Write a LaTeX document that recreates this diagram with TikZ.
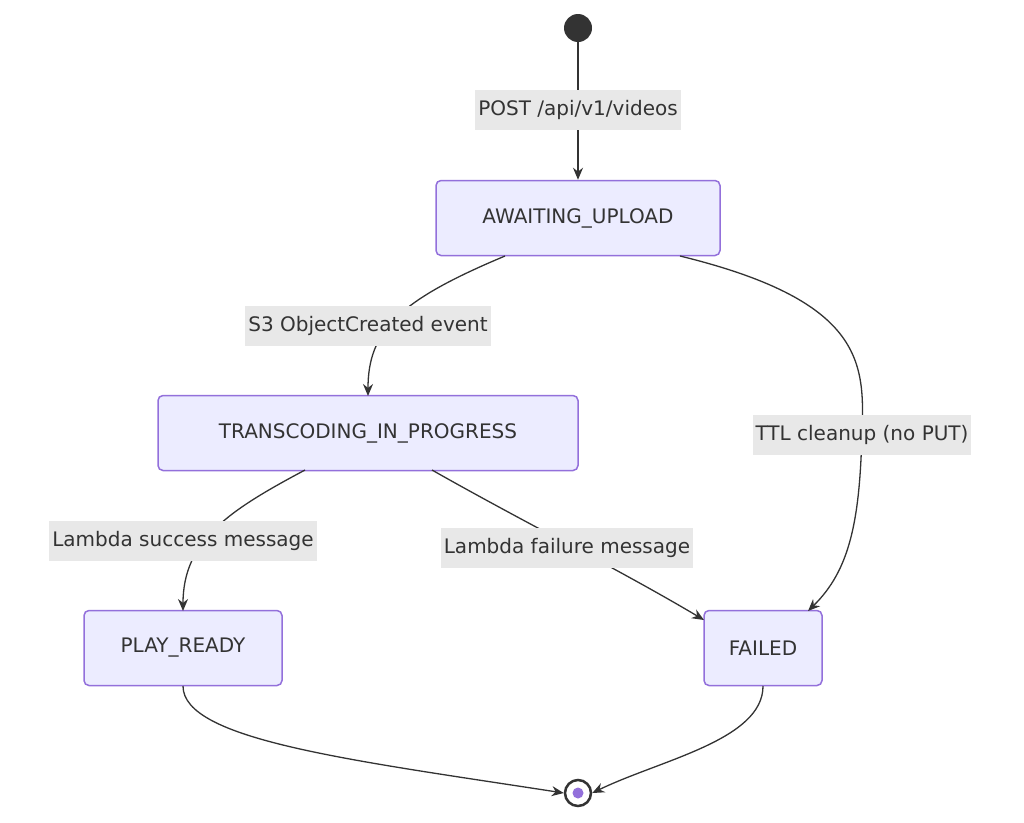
\documentclass[tikz,border=0pt]{standalone}
\usepackage{fontspec}
\setmainfont{DejaVu Sans}
\usetikzlibrary{arrows.meta}
\definecolor{boxfill}{HTML}{ECECFF}
\definecolor{boxdraw}{HTML}{9370DB}
\definecolor{txt}{HTML}{333333}
\definecolor{lblbg}{HTML}{E8E8E8}
\begin{document}
\begin{tikzpicture}[x=1pt,y=-1pt,
  state/.style={draw=boxdraw,fill=boxfill,line width=1.5pt,rounded corners=5pt,text=txt,font=\fontsize{20}{24}\selectfont,minimum height=75pt,inner xsep=16pt},
  lbl/.style={fill=lblbg,text=txt,font=\fontsize{20}{24}\selectfont,inner sep=3pt,minimum height=40pt},
  edge/.style={draw=txt,line width=1.3pt,-{Stealth[length=12pt,width=10pt]}}]
\useasboundingbox (0,0) rectangle (1024,822);
\node[circle,fill=txt,minimum size=28pt,inner sep=0] (start) at (578,28) {};
\node[state,minimum width=284pt] (await) at (578,218) {AWAITING\_UPLOAD};
\node[state,minimum width=420pt] (trans) at (368,433) {TRANSCODING\_IN\_PROGRESS};
\node[state,minimum width=198pt] (play) at (183,648) {PLAY\_READY};
\node[state,minimum width=118pt] (fail) at (763,648) {FAILED};
\node[circle,draw=txt,line width=2.5pt,fill=white,minimum size=26pt,inner sep=0] (end) at (578,793) {};
\node[circle,fill=boxdraw,minimum size=11pt,inner sep=0] at (end) {};
% edges
\draw[edge] (start) -- (await.north);
\draw[edge] (505,256) coordinate (a1) .. controls (400,300) and (368,330) .. (368,396);
\draw[edge] (680,256) .. controls (860,300) and (865,360) .. (862,430) .. controls (860,520) and (850,570) .. (808,611);
\draw[edge] (305,470) .. controls (230,510) and (183,540) .. (183,611);
\draw[edge] (432,470) .. controls (520,520) and (620,570) .. (704,620);
\draw[edge] (183,686) .. controls (183,740) and (350,760) .. (end.west);
\draw[edge] (763,686) .. controls (763,740) and (660,760) .. (end.east);
% labels
\node[lbl] at (578,110) {POST /api/v1/videos};
\node[lbl] at (368,326) {S3 ObjectCreated event};
\node[lbl] at (862,435) {TTL cleanup (no PUT)};
\node[lbl] at (183,541) {Lambda success message};
\node[lbl] at (567,548) {Lambda failure message};
\end{tikzpicture}
\end{document}
